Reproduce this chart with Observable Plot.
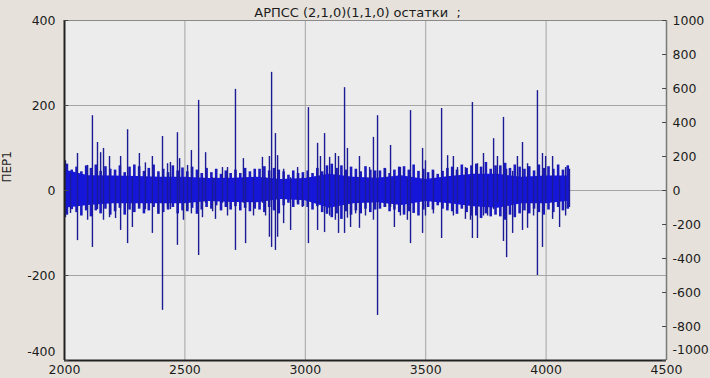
<!DOCTYPE html>
<html><head><meta charset="utf-8">
<script src="https://cdn.jsdelivr.net/npm/d3@7"></script>
<script src="https://cdn.jsdelivr.net/npm/@observablehq/plot@0.6"></script>
<style>
html,body{margin:0;padding:0;background:#e6e2db;}
#chart svg{display:block;}
</style></head><body><div id="chart"></div>
<script>
const title = "АРПСС (2,1,0)(1,1,0) остатки  ;";
const yLabel = "ПЕР1";
const xTicks = [2000, 2500, 3000, 3500, 4000, 4500];
const yTicksLeft = [-400, -200, 0, 200, 400];
const yTicksRight = [-1000, -800, -600, -400, -200, 0, 200, 400, 600, 800, 1000];

// solid core of the residual series
const bandX  = [2000,2100,2200,2300,2400,2500,2600,2700,2800,2900,3000,3100,3200,3300,3400,3500,3600,3700,3800,3900,4000,4095];
const bandHi = [48,35,34,33,31,31,28,29,31,26,28,38,31,29,35,26,33,38,38,31,34,34];
const bandLo = [-42,-35,-31,-31,-31,-31,-26,-28,-29,-21,-24,-42,-31,-29,-35,-26,-31,-38,-42,-31,-31,-25];

// ragged fringe of the dense band
const fringeX  = [2010,2030,2050,2070,2090,2110,2130,2150,2170,2190,2210,2230,2250,2270,2290,2310,2330,2350,2370,2390,2410,2430,2450,2470,2490,2510,2530,2550,2570,2590,2610,2630,2650,2670,2690,2710,2730,2750,2770,2790,2810,2830,2850,2870,2890,2910,2930,2950,2970,2990,3010,3030,3050,3070,3090,3110,3130,3150,3170,3190,3210,3230,3250,3270,3290,3310,3330,3350,3370,3390,3410,3430,3450,3470,3490,3510,3530,3550,3570,3590,3610,3630,3650,3670,3690,3710,3730,3750,3770,3790,3810,3830,3850,3870,3890,3910,3930,3950,3970,3990,4010,4030,4050,4070,4090];
const fringeHi = [62,48,55,44,58,52,60,45,56,50,48,58,42,55,60,56,45,52,60,44,50,42,58,46,53,44,55,48,40,52,42,50,38,46,40,48,40,52,44,50,50,56,46,52,48,44,36,46,40,42,46,40,52,44,58,62,52,58,48,55,50,44,56,48,46,46,52,40,48,55,56,48,60,45,50,42,48,38,45,52,55,48,60,52,58,62,55,66,50,58,58,64,52,60,55,50,56,46,60,52,56,50,60,48,58];
const fringeLo = [-58,-45,-52,-60,-48,-62,-48,-55,-44,-58,-50,-42,-58,-46,-52,-44,-55,-48,-40,-56,-52,-46,-40,-55,-48,-50,-42,-56,-46,-40,-44,-36,-48,-40,-46,-38,-48,-42,-50,-44,-46,-52,-40,-48,-55,-36,-30,-40,-34,-38,-40,-46,-38,-52,-56,-64,-55,-68,-50,-58,-48,-55,-44,-52,-46,-44,-40,-50,-46,-52,-58,-50,-54,-60,-46,-40,-46,-36,-44,-48,-50,-56,-44,-52,-60,-60,-66,-55,-62,-58,-62,-70,-58,-64,-55,-48,-55,-44,-52,-58,-46,-52,-40,-48,-44];

// larger excursions (spikes)
const spikeX  = [2004,2025,2054,2096,2116,2137,2150,2162,2187,2212,2233,2262,2282,2311,2336,2365,2390,2407,2428,2440,2469,2478,2494,2511,2527,2557,2573,2586,2615,2627,2656,2677,2710,2743,2752,2785,2822,2835,2851,2860,2876,2885,2910,2939,2968,2988,3013,3051,3063,3080,3101,3125,3138,3163,3175,3188,3209,3225,3250,3267,3283,3300,3333,3354,3370,3395,3424,3437,3487,3499,3532,3566,3591,3615,3632,3665,3686,3694,3715,3740,3757,3782,3798,3823,3836,3861,3881,3902,3923,3948,3964,3985,3998,4027,4056,4081,4097];
const spikeHi = [70,40,87,59,176,113,89,99,80,30,80,143,30,87,65,80,30,127,63,66,136,75,30,59,94,212,30,89,30,30,54,54,238,75,30,30,78,30,80,278,134,82,50,30,54,30,195,111,80,134,78,87,80,242,99,30,30,80,30,54,125,176,50,106,30,54,30,188,99,70,45,193,82,80,54,54,30,207,63,87,30,122,80,172,50,45,80,113,63,30,235,87,80,80,30,54,50];
const spikeLo = [-64,-54,-118,-70,-134,-45,-30,-70,-64,-66,-94,-125,-87,-40,-45,-101,-55,-282,-40,-45,-129,-30,-70,-45,-55,-153,-64,-30,-50,-68,-30,-60,-141,-30,-125,-60,-30,-60,-110,-134,-141,-110,-78,-94,-30,-40,-125,-94,-30,-99,-60,-70,-101,-101,-65,-87,-55,-89,-60,-30,-70,-294,-40,-40,-87,-60,-70,-125,-101,-60,-55,-113,-40,-60,-30,-68,-70,-113,-113,-60,-60,-45,-30,-120,-158,-101,-30,-94,-89,-60,-200,-134,-30,-68,-87,-60,-40];

const band = bandX.map((x, i) => ({x, hi: bandHi[i], lo: bandLo[i]}));
const fringe = fringeX.map((x, i) => ({x, hi: fringeHi[i], lo: fringeLo[i]}));
const spikes = spikeX.map((x, i) => ({x, hi: spikeHi[i], lo: spikeLo[i]}));
const ratio = 400 / 1000;
const font = "'DejaVu Sans', Verdana, sans-serif";
const ink = "#1c1c1c";

const plot = Plot.plot({
  width: 710, height: 378,
  marginTop: 20, marginBottom: 18, marginLeft: 64, marginRight: 44,
  style: {background: "transparent", fontFamily: font, fontSize: "12px", color: ink},
  x: {domain: [2000, 4500]},
  y: {domain: [-400, 400]},
  marks: [
    Plot.frame({fill: "#ececec", stroke: "none"}),
    Plot.gridX([2500, 3000, 3500, 4000], {stroke: "#a4a4a4", strokeOpacity: 1}),
    Plot.gridY([-200, 0, 200], {stroke: "#a4a4a4", strokeOpacity: 1}),
    Plot.ruleX(fringe, {x: "x", y1: "lo", y2: "hi", stroke: "#1a1abf", strokeWidth: 2.6}),
    Plot.areaY(band, {x: "x", y1: "lo", y2: "hi", fill: "#1616d8", curve: "linear"}),
    Plot.ruleX(spikes, {x: "x", y1: "lo", y2: "hi", stroke: "#1b1b96", strokeWidth: 1.4}),
    Plot.ruleY([400], {stroke: "#8a8a8a"}),
    Plot.ruleX([4500], {stroke: "#7a7a7a", strokeWidth: 1.5}),
    Plot.ruleX([2000], {stroke: "#222", strokeWidth: 2}),
    Plot.ruleY([-400], {stroke: "#222", strokeWidth: 2}),
    Plot.ruleY(yTicksLeft, {x1: 2000, x2: 2018, stroke: "#444"}),
    Plot.ruleY(yTicksRight.map(v => v * ratio), {x1: 4484, x2: 4500, stroke: "#444"}),
    Plot.axisX(xTicks, {tickSize: 0, tickPadding: 5, fontSize: 12.5, fill: ink, label: null, tickFormat: d => String(d)}),
    Plot.axisY(yTicksLeft.filter(d => d > -400), {anchor: "left", tickSize: 0, tickPadding: 9, fontSize: 12.5, fill: ink, label: null, tickFormat: d => String(d)}),
    Plot.axisY([-400], {anchor: "left", tickSize: 0, tickPadding: 9, dy: -9, fontSize: 12.5, fill: ink, label: null, tickFormat: d => String(d)}),
    Plot.axisY(yTicksRight.filter(d => d > -1000).map(v => v * ratio), {anchor: "right", tickSize: 0, tickPadding: 6, fontSize: 12.5, fill: ink, label: null, tickFormat: d => String(Math.round(d / ratio))}),
    Plot.axisY([-1000 * ratio], {anchor: "right", tickSize: 0, tickPadding: 6, dy: -11, fontSize: 12.5, fill: ink, label: null, tickFormat: d => String(Math.round(d / ratio))}),
    Plot.text([title], {frameAnchor: "top", dy: -13, dx: -8, fontSize: 13, fill: ink}),
    Plot.text([yLabel], {frameAnchor: "left", dx: -57, dy: -8, rotate: -90, fontSize: 12, fill: ink})
  ]
});
document.getElementById("chart").appendChild(plot);
</script></body></html>
